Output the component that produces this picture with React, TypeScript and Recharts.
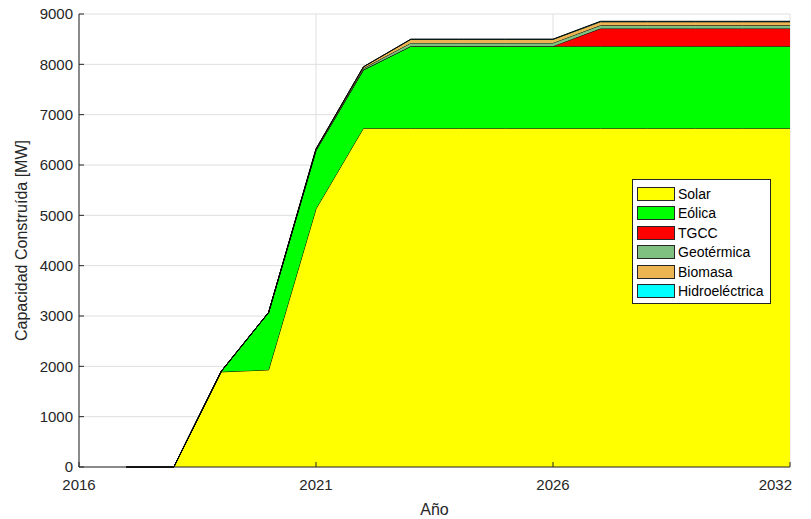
import React from "react";
import {
  AreaChart,
  Area,
  XAxis,
  YAxis,
  CartesianGrid,
  Label,
} from "recharts";

// Installed capacity per technology, MW, one value per year
const years = [2017, 2018, 2019, 2020, 2021, 2022, 2023, 2024, 2025, 2026, 2027, 2028, 2029, 2030, 2031];
const solar = [0, 0, 1890, 1930, 5130, 6730, 6730, 6730, 6730, 6730, 6730, 6730, 6730, 6730, 6730];
const eolica = [0, 0, 10, 1140, 1160, 1160, 1630, 1630, 1630, 1630, 1630, 1630, 1630, 1630, 1630];
const tgcc = [0, 0, 0, 0, 0, 0, 0, 0, 0, 0, 350, 350, 350, 350, 350];
const geotermica = [0, 0, 0, 0, 15, 30, 65, 65, 65, 65, 65, 65, 65, 65, 65];
const biomasa = [0, 0, 0, 0, 15, 30, 70, 70, 70, 70, 70, 70, 70, 70, 70];
const hidroelectrica = [0, 0, 0, 0, 0, 0, 5, 5, 5, 5, 10, 10, 10, 10, 10];

const xTicks = [2016, 2021, 2026, 2031];
const xTickLabels = ["2016", "2021", "2026", "2032"];
const yTicks = [0, 1000, 2000, 3000, 4000, 5000, 6000, 7000, 8000, 9000];

const series = [
  { key: "solar", name: "Solar", color: "#ffff00" },
  { key: "eolica", name: "Eólica", color: "#00ff00" },
  { key: "tgcc", name: "TGCC", color: "#ff0000" },
  { key: "geotermica", name: "Geotérmica", color: "#7fbf7f" },
  { key: "biomasa", name: "Biomasa", color: "#edb551" },
  { key: "hidroelectrica", name: "Hidroeléctrica", color: "#00ffff" },
];

const data = years.map((year, i) => ({
  year,
  solar: solar[i],
  eolica: eolica[i],
  tgcc: tgcc[i],
  geotermica: geotermica[i],
  biomasa: biomasa[i],
  hidroelectrica: hidroelectrica[i],
}));

const FONT = "'Liberation Sans', Arial, Helvetica, sans-serif";
const AXIS = "#262626";

// year labels under the axis; the last one sits flush with the right edge
const YearTick = (props: any) => {
  const { x, y, payload } = props;
  const idx = xTicks.indexOf(payload.value);
  const last = idx === xTicks.length - 1;
  return (
    <text
      x={last ? x + 2 : x}
      y={y}
      dy={11}
      textAnchor={last ? "end" : "middle"}
      fill={AXIS}
      fontSize={15}
      fontFamily={FONT}
    >
      {xTickLabels[idx]}
    </text>
  );
};

// legend box drawn over the plot, so it doesn't shrink the axes
const LegendBox = () => (
  <div
    style={{
      position: "absolute",
      left: 632,
      top: 179,
      width: 139,
      height: 125,
      boxSizing: "border-box",
      border: `1px solid ${AXIS}`,
      background: "#fff",
      padding: "4px 0 0 4px",
      fontFamily: FONT,
      fontSize: 14,
      color: "#000",
    }}
  >
    {series.map((s) => (
      <div key={s.key} style={{ display: "flex", alignItems: "center", height: 19.5 }}>
        <span
          style={{
            display: "inline-block",
            width: 36,
            height: 12,
            background: s.color,
            border: `1px solid ${AXIS}`,
            marginRight: 3,
          }}
        />
        <span>{s.name}</span>
      </div>
    ))}
  </div>
);

export default function App() {
  return (
    <div style={{ position: "absolute", left: 0, top: 0, width: 811, height: 519, background: "#fff" }}>
      <AreaChart
        width={811}
        height={519}
        data={data}
        margin={{ top: 14, right: 21, bottom: 22, left: 19 }}
      >
        <CartesianGrid stroke="#dfdfdf" strokeWidth={1} />
        <XAxis
          dataKey="year"
          type="number"
          domain={[2016, 2031]}
          ticks={xTicks}
          height={30}
          stroke={AXIS}
          tickSize={-5}
          tickMargin={17}
          tick={<YearTick />}
        >
          <Label
            value="Año"
            position="bottom"
            offset={7}
            style={{ fill: AXIS, fontSize: 16, fontFamily: FONT }}
          />
        </XAxis>
        <XAxis
          xAxisId="top"
          orientation="top"
          type="number"
          domain={[2016, 2031]}
          ticks={xTicks}
          height={0}
          stroke={AXIS}
          tickSize={-5}
          tick={false}
        />
        <YAxis
          type="number"
          domain={[0, 9000]}
          ticks={yTicks}
          width={60}
          stroke={AXIS}
          tickSize={-5}
          tickMargin={11}
          tick={{ fill: AXIS, fontSize: 15, fontFamily: FONT }}
        >
          <Label
            value="Capacidad Construída [MW]"
            angle={-90}
            position="insideLeft"
            offset={2}
            style={{ fill: AXIS, fontSize: 16, fontFamily: FONT, textAnchor: "middle" }}
          />
        </YAxis>
        <YAxis
          yAxisId="right"
          orientation="right"
          type="number"
          domain={[0, 9000]}
          ticks={yTicks}
          width={0}
          stroke={AXIS}
          tickSize={-5}
          tick={false}
        />
        {series.map((s) => (
          <Area
            key={s.key}
            type="linear"
            dataKey={s.key}
            name={s.name}
            stackId="cap"
            fill={s.color}
            fillOpacity={1}
            stroke="#000"
            strokeWidth={1}
            isAnimationActive={false}
          />
        ))}
      </AreaChart>
      <LegendBox />
    </div>
  );
}
